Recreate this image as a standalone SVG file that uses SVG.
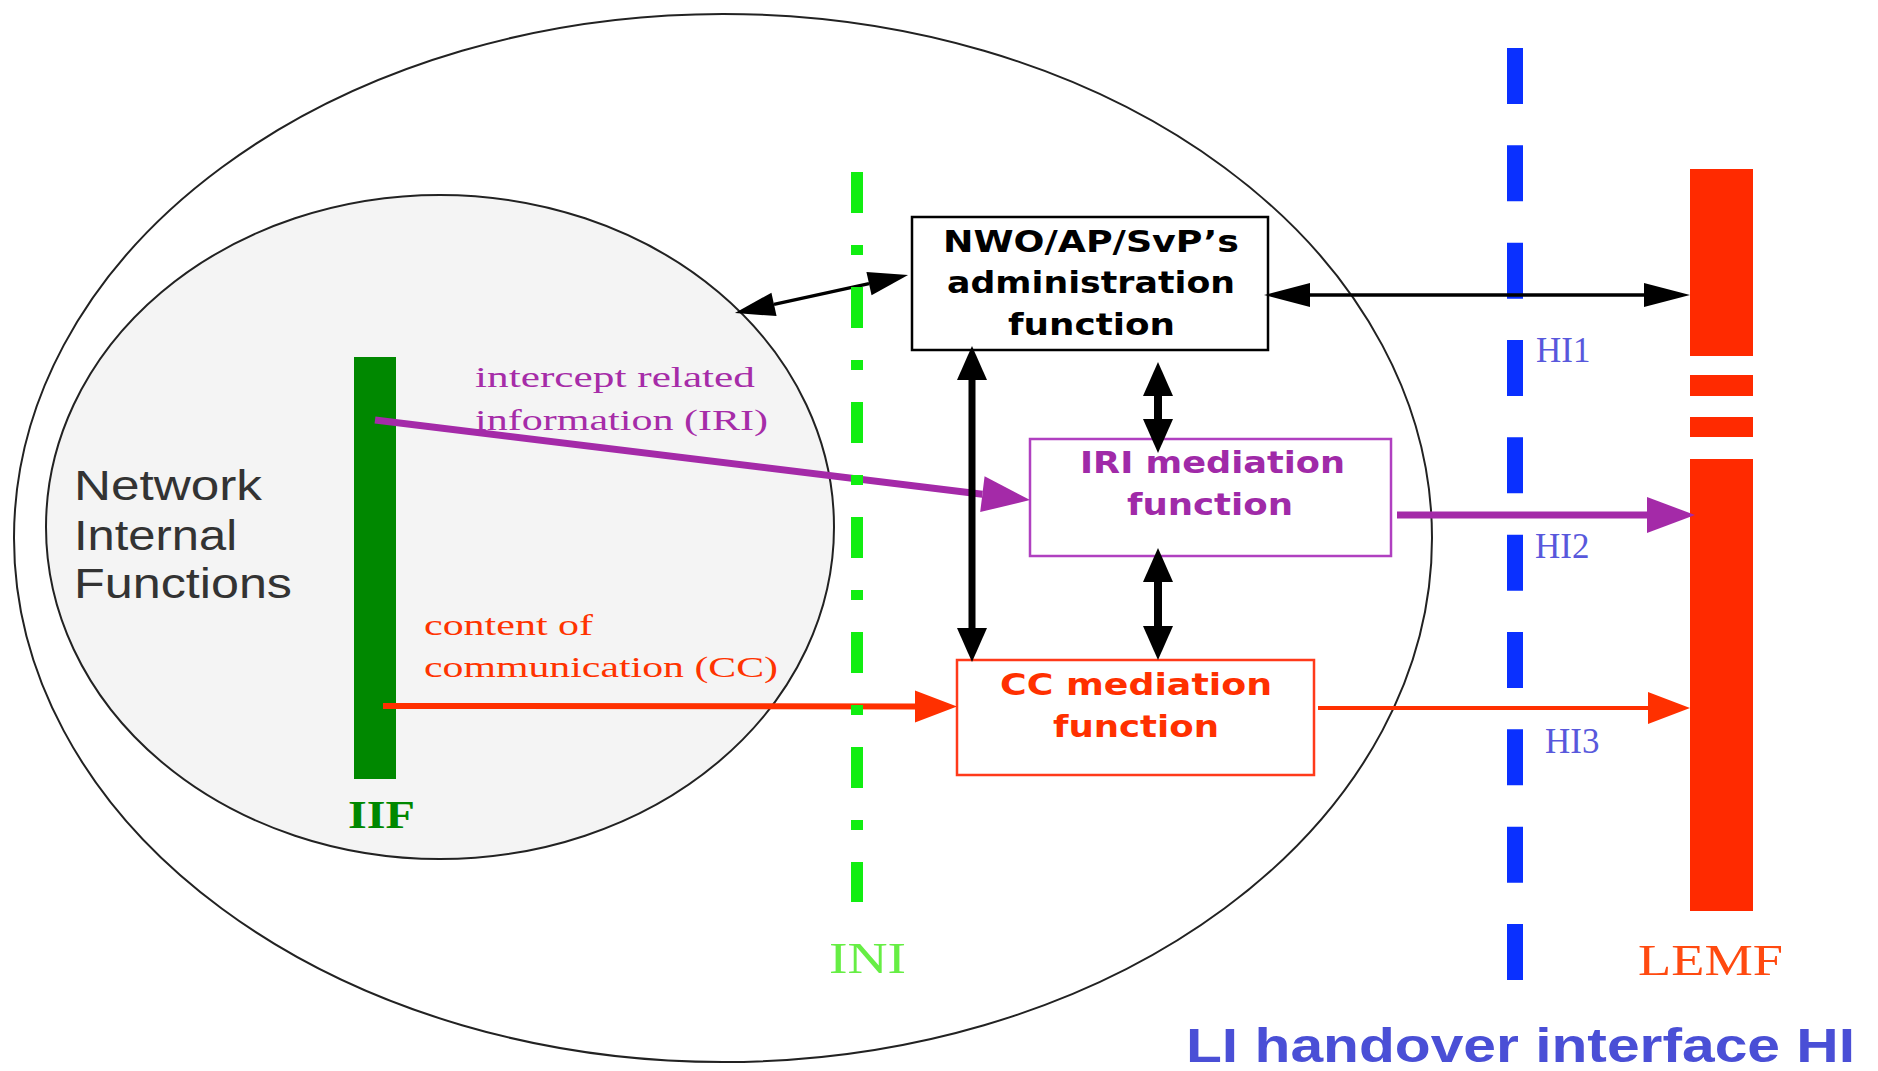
<svg xmlns="http://www.w3.org/2000/svg" width="1878" height="1071" viewBox="0 0 1878 1071">
<style>
.ell{stroke:#222;stroke-width:2}
.serif{font-family:"Liberation Serif","Times New Roman",serif}
.sans{font-family:"Liberation Sans",Arial,sans-serif}
.boxt{font-family:"DejaVu Sans","Liberation Sans",sans-serif;font-weight:bold;font-size:31px}
.box{fill:#fff;stroke-width:2.5}
.blk{stroke:#000;fill:none}
.hi{font-size:35px;fill:#5858dc}
</style>
<defs>
<marker id="hBlkH" markerUnits="userSpaceOnUse" orient="auto-start-reverse" overflow="visible" refX="0" refY="0" markerWidth="1" markerHeight="1"><path d="M0,-12 L46,0 L0,12 z" fill="#000"/></marker>
<marker id="hBlkD" markerUnits="userSpaceOnUse" orient="auto-start-reverse" overflow="visible" refX="0" refY="0" markerWidth="1" markerHeight="1"><path d="M0,-12 L40,0 L0,12 z" fill="#000"/></marker>
<marker id="hBlkV" markerUnits="userSpaceOnUse" orient="auto-start-reverse" overflow="visible" refX="0" refY="0" markerWidth="1" markerHeight="1"><path d="M0,-15 L34,0 L0,15 z" fill="#000"/></marker>
<marker id="hPur" markerUnits="userSpaceOnUse" orient="auto" overflow="visible" refX="0" refY="0" markerWidth="1" markerHeight="1"><path d="M0,-18 L48,0 L0,18 z" fill="#a42aa8"/></marker>
<marker id="hRed" markerUnits="userSpaceOnUse" orient="auto" overflow="visible" refX="0" refY="0" markerWidth="1" markerHeight="1"><path d="M0,-16 L42,0 L0,16 z" fill="#ff3000"/></marker>
</defs>

<g id="outer-domain">
<ellipse class="ell" cx="723" cy="538" rx="709" ry="524" fill="#fff"/>
</g>

<g id="network-internal">
<ellipse class="ell" cx="440" cy="527" rx="394" ry="332" fill="#f4f4f4"/>
<text class="sans" font-size="42" fill="#333" x="74" y="500" textLength="188" lengthAdjust="spacingAndGlyphs">Network</text>
<text class="sans" font-size="42" fill="#333" x="74" y="550" textLength="163" lengthAdjust="spacingAndGlyphs">Internal</text>
<text class="sans" font-size="42" fill="#333" x="74" y="598" textLength="218" lengthAdjust="spacingAndGlyphs">Functions</text>
</g>

<g id="iif">
<rect x="354" y="357" width="42" height="422" fill="#008800"/>
<text class="serif" font-size="40" font-weight="bold" fill="#008800" x="348" y="828" textLength="67" lengthAdjust="spacingAndGlyphs">IIF</text>
</g>

<g id="hi-line">
<line x1="1515" y1="48" x2="1515" y2="983" stroke="#0a30ff" stroke-width="16" stroke-dasharray="56 41.33"/>
<text class="serif hi" x="1536" y="362">HI1</text>
<text class="serif hi" x="1535" y="558">HI2</text>
<text class="serif hi" x="1545" y="753">HI3</text>
</g>

<g id="lemf">
<rect x="1690" y="169" width="63" height="187" fill="#ff2a00"/>
<rect x="1690" y="375" width="63" height="21" fill="#ff2a00"/>
<rect x="1690" y="417" width="63" height="20" fill="#ff2a00"/>
<rect x="1690" y="459" width="63" height="452" fill="#ff2a00"/>
<text class="serif" font-size="44" fill="#ff4a10" x="1638" y="975" textLength="145" lengthAdjust="spacingAndGlyphs">LEMF</text>
</g>

<g id="admin">
<rect class="box" x="912" y="217" width="356" height="133" stroke="#000"/>
<text class="boxt" fill="#000" x="943" y="252" textLength="296" lengthAdjust="spacingAndGlyphs">NWO/AP/SvP’s</text>
<text class="boxt" fill="#000" x="947" y="293" textLength="288" lengthAdjust="spacingAndGlyphs">administration</text>
<text class="boxt" fill="#000" x="1008" y="335" textLength="167" lengthAdjust="spacingAndGlyphs">function</text>
</g>

<g id="iri-mediation">
<rect class="box" x="1030" y="439" width="361" height="117" stroke="#b040c0" stroke-width="2"/>
<text class="boxt" fill="#a02aa8" x="1080" y="473" textLength="265" lengthAdjust="spacingAndGlyphs">IRI mediation</text>
<text class="boxt" fill="#a02aa8" x="1127" y="515" textLength="166" lengthAdjust="spacingAndGlyphs">function</text>
</g>

<g id="cc-mediation">
<rect class="box" x="957" y="660" width="357" height="115" stroke="#ff3a1a" stroke-width="2"/>
<text class="boxt" fill="#ff3000" x="1000" y="695" textLength="272" lengthAdjust="spacingAndGlyphs">CC mediation</text>
<text class="boxt" fill="#ff3000" x="1053" y="737" textLength="166" lengthAdjust="spacingAndGlyphs">function</text>
</g>

<g id="labels">
<text class="serif" font-size="29" fill="#a62ca8" x="475" y="387" textLength="280" lengthAdjust="spacingAndGlyphs">intercept related</text>
<text class="serif" font-size="29" fill="#a62ca8" x="475" y="430" textLength="293" lengthAdjust="spacingAndGlyphs">information (IRI)</text>
<text class="serif" font-size="29" fill="#ff3300" x="424" y="635" textLength="169" lengthAdjust="spacingAndGlyphs">content of</text>
<text class="serif" font-size="29" fill="#ff3300" x="424" y="677" textLength="354" lengthAdjust="spacingAndGlyphs">communication (CC)</text>
</g>

<g id="connectors">
<line x1="375" y1="420" x2="982.4" y2="494.2" stroke="#a42aa8" stroke-width="7" marker-end="url(#hPur)"/>
<line x1="383" y1="706" x2="915" y2="706.5" stroke="#ff3000" stroke-width="6" marker-end="url(#hRed)"/>
<line x1="1397" y1="515" x2="1647" y2="515" stroke="#a42aa8" stroke-width="7" marker-end="url(#hPur)"/>
<line x1="1318" y1="708" x2="1648" y2="708" stroke="#ff3000" stroke-width="4" marker-end="url(#hRed)"/>
<line class="blk" x1="774" y1="304.4" x2="869" y2="283.6" stroke-width="3.5" marker-start="url(#hBlkD)" marker-end="url(#hBlkD)"/>
<line class="blk" x1="1310" y1="295" x2="1644" y2="295" stroke-width="3.5" marker-start="url(#hBlkH)" marker-end="url(#hBlkH)"/>
<line class="blk" x1="972" y1="380" x2="972" y2="628" stroke-width="7" marker-start="url(#hBlkV)" marker-end="url(#hBlkV)"/>
<line class="blk" x1="1158" y1="396" x2="1158" y2="419" stroke-width="8" marker-start="url(#hBlkV)" marker-end="url(#hBlkV)"/>
<line class="blk" x1="1158" y1="582" x2="1158" y2="626" stroke-width="8" marker-start="url(#hBlkV)" marker-end="url(#hBlkV)"/>
</g>

<g id="ini">
<line x1="857" y1="172" x2="857" y2="902" stroke="#11ee11" stroke-width="12" stroke-dasharray="41 32 10 32"/>
<text class="serif" font-size="44" fill="#66ee44" x="829" y="973" textLength="77" lengthAdjust="spacingAndGlyphs">INI</text>
</g>

<g id="title">
<text class="sans" font-size="48" font-weight="bold" fill="#4a4fd6" x="1186" y="1062" textLength="669" lengthAdjust="spacingAndGlyphs">LI handover interface HI</text>
</g>
</svg>
